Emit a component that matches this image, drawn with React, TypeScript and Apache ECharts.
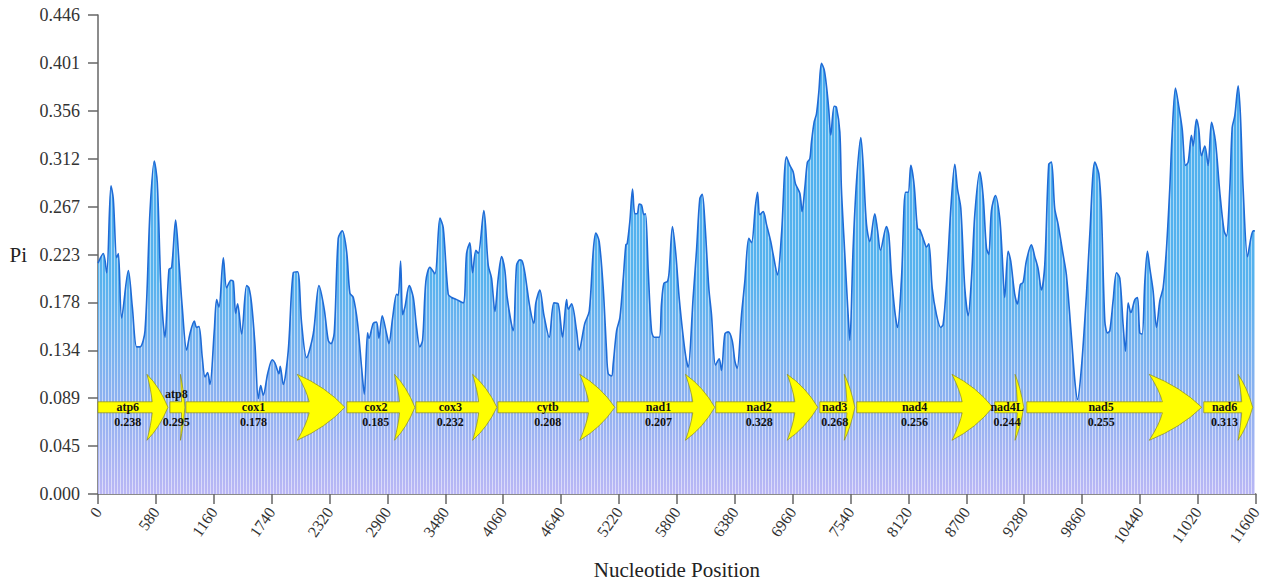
import React, { useEffect, useRef } from 'react';
import * as echarts from 'echarts';

// Sliding-window nucleotide diversity (Pi)
const positions = [
  0, 53, 87, 130, 153, 187, 204, 237, 304, 344, 387, 421, 471, 521, 564, 594, 631, 671, 711, 738,
  778, 811, 844, 888, 921, 965, 988, 1012, 1045, 1072, 1098, 1122, 1165, 1189, 1212, 1256, 1289, 1332, 1356, 1379,
  1399, 1439, 1489, 1512, 1539, 1573, 1606, 1630, 1656, 1700, 1746, 1773, 1813, 1826, 1856, 1906, 1956, 2000, 2040, 2090,
  2157, 2214, 2267, 2307, 2334, 2367, 2407, 2447, 2491, 2524, 2558, 2601, 2641, 2668, 2701, 2715, 2758, 2791, 2815, 2848,
  2892, 2915, 2952, 2992, 3008, 3032, 3052, 3075, 3119, 3159, 3192, 3225, 3252, 3285, 3326, 3376, 3426, 3459, 3509, 3543,
  3593, 3659, 3693, 3726, 3753, 3786, 3810, 3866, 3910, 3943, 3977, 4010, 4044, 4077, 4100, 4160, 4194, 4227, 4250, 4277,
  4327, 4367, 4387, 4427, 4467, 4521, 4568, 4611, 4654, 4695, 4711, 4745, 4795, 4821, 4878, 4922, 4962, 4988, 5022, 5062,
  5095, 5112, 5146, 5162, 5196, 5229, 5263, 5289, 5302, 5329, 5356, 5379, 5403, 5423, 5446, 5470, 5486, 5513, 5546, 5573,
  5623, 5646, 5670, 5706, 5723, 5756, 5790, 5823, 5864, 5891, 5913, 5963, 5997, 6030, 6054, 6080, 6120, 6147, 6187, 6224,
  6247, 6281, 6314, 6354, 6381, 6404, 6448, 6481, 6521, 6548, 6588, 6608, 6631, 6665, 6698, 6741, 6765, 6808, 6848, 6898,
  6932, 6965, 6988, 7032, 7055, 7082, 7108, 7132, 7149, 7175, 7199, 7222, 7249, 7276, 7299, 7322, 7342, 7376, 7399, 7433,
  7449, 7483, 7516, 7533, 7566, 7600, 7643, 7667, 7700, 7733, 7783, 7810, 7840, 7900, 7924, 7950, 7984, 8011, 8051, 8091,
  8118, 8144, 8178, 8211, 8235, 8278, 8301, 8325, 8358, 8401, 8444, 8468, 8501, 8545, 8585, 8612, 8645, 8685, 8719, 8752,
  8785, 8835, 8868, 8902, 8925, 8952, 8992, 9035, 9059, 9085, 9119, 9145, 9185, 9212, 9242, 9269, 9302, 9352, 9386, 9419,
  9453, 9486, 9526, 9553, 9586, 9620, 9670, 9703, 9754, 9787, 9814, 9854, 9904, 9937, 9988, 10028, 10054, 10088, 10115, 10138,
  10171, 10205, 10238, 10271, 10295, 10322, 10349, 10389, 10415, 10438, 10462, 10489, 10515, 10539, 10572, 10606, 10639, 10672, 10706, 10739,
  10762, 10796, 10829, 10863, 10896, 10923, 10956, 10973, 11006, 11029, 11056, 11090, 11123, 11157, 11197, 11240, 11283, 11307, 11340, 11364,
  11390, 11424, 11447, 11474, 11518, 11551, 11575, 11591,
];

const piValues = [
  0.215, 0.224, 0.206, 0.287, 0.275, 0.220, 0.224, 0.164, 0.208, 0.174, 0.137, 0.137, 0.152, 0.263, 0.310, 0.290, 0.192, 0.146, 0.209, 0.211,
  0.255, 0.217, 0.174, 0.134, 0.149, 0.161, 0.155, 0.156, 0.127, 0.109, 0.113, 0.102, 0.152, 0.181, 0.174, 0.220, 0.192, 0.199, 0.198, 0.168,
  0.177, 0.149, 0.194, 0.192, 0.177, 0.139, 0.089, 0.101, 0.092, 0.112, 0.125, 0.122, 0.112, 0.119, 0.102, 0.133, 0.206, 0.207, 0.159, 0.127,
  0.149, 0.194, 0.172, 0.143, 0.140, 0.150, 0.238, 0.245, 0.226, 0.187, 0.183, 0.159, 0.118, 0.093, 0.150, 0.145, 0.159, 0.160, 0.145, 0.166,
  0.149, 0.140, 0.164, 0.186, 0.185, 0.217, 0.167, 0.174, 0.194, 0.183, 0.155, 0.137, 0.143, 0.198, 0.211, 0.205, 0.257, 0.248, 0.186, 0.183,
  0.181, 0.178, 0.224, 0.234, 0.206, 0.227, 0.224, 0.264, 0.213, 0.201, 0.170, 0.201, 0.221, 0.208, 0.183, 0.152, 0.213, 0.218, 0.217, 0.206,
  0.174, 0.159, 0.178, 0.190, 0.167, 0.146, 0.178, 0.177, 0.146, 0.181, 0.172, 0.177, 0.152, 0.134, 0.159, 0.170, 0.226, 0.243, 0.235, 0.192,
  0.134, 0.112, 0.110, 0.121, 0.152, 0.164, 0.201, 0.232, 0.233, 0.254, 0.284, 0.261, 0.261, 0.270, 0.269, 0.260, 0.261, 0.208, 0.152, 0.146,
  0.146, 0.177, 0.196, 0.198, 0.207, 0.249, 0.223, 0.183, 0.146, 0.127, 0.118, 0.183, 0.227, 0.275, 0.279, 0.254, 0.192, 0.167, 0.120, 0.126,
  0.115, 0.149, 0.151, 0.143, 0.124, 0.117, 0.167, 0.198, 0.238, 0.234, 0.269, 0.281, 0.260, 0.263, 0.251, 0.235, 0.223, 0.204, 0.241, 0.314,
  0.306, 0.300, 0.289, 0.280, 0.263, 0.285, 0.309, 0.312, 0.328, 0.346, 0.354, 0.374, 0.401, 0.395, 0.380, 0.358, 0.334, 0.361, 0.360, 0.337,
  0.284, 0.223, 0.167, 0.143, 0.229, 0.291, 0.332, 0.306, 0.251, 0.235, 0.261, 0.246, 0.227, 0.249, 0.241, 0.204, 0.170, 0.155, 0.201, 0.281,
  0.281, 0.306, 0.287, 0.247, 0.246, 0.235, 0.230, 0.233, 0.192, 0.167, 0.155, 0.158, 0.195, 0.266, 0.307, 0.284, 0.266, 0.192, 0.166, 0.201,
  0.260, 0.300, 0.278, 0.229, 0.223, 0.264, 0.278, 0.257, 0.223, 0.183, 0.226, 0.217, 0.186, 0.177, 0.195, 0.197, 0.217, 0.232, 0.221, 0.210,
  0.190, 0.213, 0.307, 0.309, 0.266, 0.251, 0.223, 0.204, 0.146, 0.106, 0.088, 0.118, 0.186, 0.241, 0.309, 0.298, 0.263, 0.161, 0.150, 0.152,
  0.180, 0.206, 0.201, 0.158, 0.133, 0.178, 0.169, 0.181, 0.183, 0.150, 0.149, 0.198, 0.226, 0.210, 0.189, 0.155, 0.180, 0.192, 0.229, 0.285,
  0.334, 0.378, 0.361, 0.340, 0.306, 0.309, 0.334, 0.324, 0.349, 0.340, 0.315, 0.324, 0.306, 0.346, 0.328, 0.281, 0.245, 0.240, 0.284, 0.341,
  0.352, 0.380, 0.352, 0.284, 0.221, 0.238, 0.245, 0.245,
];

// Protein-coding genes
const geneNames = ['atp6', 'atp8', 'cox1', 'cox2', 'cox3', 'cytb', 'nad1', 'nad2', 'nad3', 'nad4', 'nad4L', 'nad5', 'nad6'];
const geneStarts = [0, 721, 881, 2494, 3185, 4007, 5199, 6190, 7232, 7603, 8985, 9306, 11079];
const geneEnds = [701, 871, 2474, 3175, 3997, 5179, 6180, 7212, 7583, 8965, 9276, 11059, 11570];
const genePi = ['0.238', '0.295', '0.178', '0.185', '0.232', '0.208', '0.207', '0.328', '0.268', '0.256', '0.244', '0.255', '0.313'];

// Axes
const xMax = 11600;
const xStep = 580;
const yTickLabels = ['0.000', '0.045', '0.089', '0.134', '0.178', '0.223', '0.267', '0.312', '0.356', '0.401', '0.446'];
const yMax = 0.446;
const yStep = 0.0446;

const SERIF = '"Liberation Serif", "Times New Roman", serif';

export default function App() {
  const ref = useRef<HTMLDivElement>(null);

  useEffect(() => {
    if (!ref.current) return;
    const chart = echarts.init(ref.current, null, { renderer: 'svg' });

    const cv = document.createElement('canvas');
    cv.width = 3;
    cv.height = 4;
    const ctx = cv.getContext('2d');
    if (ctx) {
      ctx.fillStyle = 'rgba(255,255,255,0.5)';
      ctx.fillRect(0, 0, 1, 4);
    }
    const stripeUrl = cv.toDataURL();

    const lineData = positions.map((p, i) => [p, piValues[i]]);
    const geneData = geneStarts.map((s, i) => [s, geneEnds[i]]);

    const option: any = {
      animation: false,
      grid: { left: 98, right: 8, top: 15, bottom: 82 },
      xAxis: {
        type: 'value',
        min: 0,
        max: xMax,
        interval: xStep,
        name: 'Nucleotide Position',
        nameLocation: 'middle',
        nameGap: 65,
        nameTextStyle: { fontFamily: SERIF, fontSize: 21, color: '#222' },
        axisLine: { show: true, lineStyle: { color: '#666', width: 1.5 } },
        axisTick: { show: true, length: 10, lineStyle: { color: '#666', width: 1.5 } },
        splitLine: { show: false },
        axisLabel: {
          rotate: 55,
          margin: 15,
          fontFamily: SERIF,
          fontSize: 16,
          color: '#333',
          showMinLabel: true,
          showMaxLabel: true,
          formatter: (v: number) => String(Math.round(v)),
        },
      },
      yAxis: {
        type: 'value',
        min: 0,
        max: yMax,
        interval: yStep,
        name: 'Pi',
        nameLocation: 'middle',
        nameRotate: 0,
        nameGap: 71,
        nameTextStyle: { fontFamily: SERIF, fontSize: 21, color: '#222' },
        axisLine: { show: true, lineStyle: { color: '#666', width: 1.5 } },
        axisTick: { show: true, length: 10, lineStyle: { color: '#666', width: 1.5 } },
        splitLine: { show: false },
        axisLabel: {
          margin: 18,
          fontFamily: SERIF,
          fontSize: 18,
          color: '#333',
          formatter: (v: number) => yTickLabels[Math.round(v / yStep)] ?? '',
        },
      },
      series: [
        {
          type: 'line',
          data: lineData,
          smooth: 0.3,
          showSymbol: false,
          lineStyle: { width: 0, opacity: 0 },
          areaStyle: {
            opacity: 1,
            color: new echarts.graphic.LinearGradient(0, 0, 0, 1, [
              { offset: 0, color: '#4aaeee' },
              { offset: 0.5, color: '#56b2ee' },
              { offset: 0.78, color: '#8db1f0' },
              { offset: 1, color: '#bab7f5' },
            ]),
          },
          z: 1,
        },
        {
          type: 'line',
          data: lineData,
          smooth: 0.3,
          showSymbol: false,
          lineStyle: { width: 0, opacity: 0 },
          areaStyle: {
            opacity: 1,
            color: { image: stripeUrl, repeat: 'repeat', imageWidth: 3, imageHeight: 4 },
          },
          z: 2,
        },
        {
          type: 'line',
          data: lineData,
          smooth: 0.3,
          showSymbol: false,
          lineStyle: { width: 1.6, color: '#1f6bd6' },
          z: 3,
        },
        {
          type: 'custom',
          z: 10,
          clip: false,
          encode: { x: [0, 1] },
          data: geneData,
          renderItem: (params: any, api: any) => {
            const i = params.dataIndex;
            const s = api.coord([api.value(0), 0]);
            const e = api.coord([api.value(1), 0]);
            const cs = params.coordSys;
            const yc = cs.y + cs.height * 0.819;
            const x0 = s[0];
            const x1 = e[0];
            const len = x1 - x0;
            const hw = len * 0.3;
            const hx = x1 - hw;
            const hb = 5.5;
            const H = 33;
            const d =
              `M${x0},${yc - hb} L${hx + 0.25 * hw},${yc - hb} ` +
              `Q${hx + 0.2 * hw},${yc - 0.5 * H} ${hx},${yc - H} ` +
              `Q${hx + 0.6 * hw},${yc - 0.62 * H} ${x1},${yc} ` +
              `Q${hx + 0.6 * hw},${yc + 0.62 * H} ${hx},${yc + H} ` +
              `Q${hx + 0.2 * hw},${yc + 0.5 * H} ${hx + 0.25 * hw},${yc + hb} ` +
              `L${x0},${yc + hb} Z`;
            const short = api.value(1) - api.value(0) < 200;
            const cx = (x0 + x1 - hw * 0.5) / 2;
            const font = `bold 12px ${SERIF}`;
            return {
              type: 'group',
              children: [
                {
                  type: 'path',
                  shape: { pathData: d },
                  style: { fill: '#ffff00', stroke: '#8c8c1a', lineWidth: 0.7 },
                },
                {
                  type: 'text',
                  style: {
                    x: cx,
                    y: short ? yc - 13 : yc - 0.5,
                    text: geneNames[i],
                    font,
                    fill: '#111',
                    align: 'center',
                    verticalAlign: 'middle',
                  },
                },
                {
                  type: 'text',
                  style: {
                    x: cx,
                    y: yc + 15,
                    text: genePi[i],
                    font,
                    fill: '#111',
                    align: 'center',
                    verticalAlign: 'middle',
                  },
                },
              ],
            };
          },
        },
      ],
    };

    chart.setOption(option);
    return () => {
      chart.dispose();
    };
  }, []);

  return (
    <div
      ref={ref}
      style={{ position: 'fixed', left: 0, top: 0, width: '100vw', height: '100vh', background: '#fff' }}
    />
  );
}
